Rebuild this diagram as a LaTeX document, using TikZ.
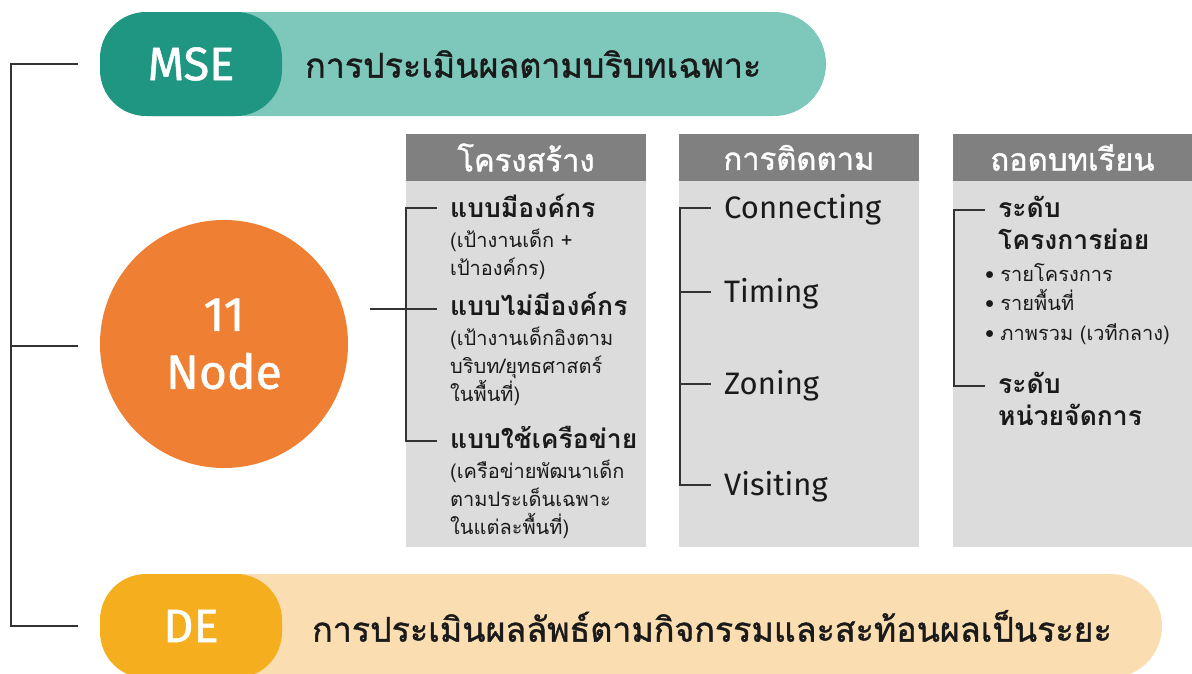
\documentclass[tikz,border=0pt]{standalone}
\usepackage{fontspec}
\setmainfont{Fira Sans}
\newfontfamily\thai[Script=Thai]{Loma}
\newfontfamily\thaimed[Script=Thai,FakeBold=1.2]{Loma}
\newfontfamily\firamed[FakeBold=1]{Fira Sans}
\definecolor{tealdark}{HTML}{1F9682}
\definecolor{teallight}{HTML}{7DC8BB}
\definecolor{orangec}{HTML}{EF7F33}
\definecolor{yeldark}{HTML}{F4AE1E}
\definecolor{yellight}{HTML}{FADDB0}
\definecolor{hdrgray}{HTML}{808080}
\definecolor{bodygray}{HTML}{DCDCDC}
\definecolor{linec}{HTML}{333333}
\definecolor{txt}{HTML}{1A1A1A}
\newcommand{\fs}[1]{\fontsize{#1}{#1}\selectfont}
\tikzset{
  conn/.style={draw=linec, line width=2.4pt},
  bar/.style={rounded corners=52pt, minimum height=104pt, inner sep=0pt},
  capnode/.style={rounded corners=46pt, minimum width=182pt, minimum height=104pt, inner sep=0pt, text=white, font=\firamed\fs{47}},
  bartext/.style={anchor=west, inner sep=0pt, text=txt, font=\thaimed\fs{34}},
  hdr/.style={fill=hdrgray, minimum width=240pt, minimum height=47pt, inner sep=0pt, text=white, font=\thaimed\fs{31}},
  colbody/.style={fill=bodygray, minimum width=240pt, minimum height=366pt, inner sep=0pt},
  big/.style={anchor=west, inner sep=0pt, text=txt, font=\thai\bfseries\fs{26.5}, text height=18pt, text depth=6pt},
  small/.style={anchor=west, inner sep=0pt, text=txt, font=\thai\fs{20}, text height=14pt, text depth=5pt},
  latin/.style={anchor=west, inner sep=0pt, text=txt, font=\fs{31}, text height=22pt, text depth=7pt},
}
\begin{document}
\begin{tikzpicture}[x=1pt,y=-1pt]
\useasboundingbox (0,0) rectangle (1192,673);
\clip (0,0) rectangle (1192,673);
% top bar
\node[bar, fill=teallight, minimum width=726pt] (msebar) at (463,64) {};
\node[capnode, fill=tealdark] (mse) at (191,64) {MSE};
\node[bartext] (msetext) at (305,64) {การประเมินผลตามบริบทเฉพาะ};
% bottom bar
\node[bar, fill=yellight, minimum width=1062pt] (debar) at (631,626) {};
\node[capnode, fill=yeldark] (de) at (191,626) {DE};
\node[bartext] (detext) at (312,626) {การประเมินผลลัพธ์ตามกิจกรรมและสะท้อนผลเป็นระยะ};
% circle
\node[circle, fill=orangec, minimum size=248pt, inner sep=0pt, text=white, align=center, font=\firamed\fs{48}] (node11) at (224,344) {11\\[10pt]Node};
% left bracket
\coordinate (lt) at (11,64);
\coordinate (lm) at (11,346);
\coordinate (lb) at (11,626);
\coordinate (lte) at (78,64);
\coordinate (lme) at (78,346);
\coordinate (lbe) at (78,626);
\draw[conn] (lte) -- (lt) -- (lb) -- (lbe);
\draw[conn] (lm) -- (lme);
% columns
\node[colbody] (b1) at (526,364) {};
\node[hdr] (h1) at (526,157.5) {โครงสร้าง};
\node[colbody] (b2) at (799,364) {};
\node[hdr] (h2) at (799,157.5) {การติดตาม};
\node[colbody, minimum width=239pt] (b3) at (1072.5,364) {};
\node[hdr, minimum width=239pt] (h3) at (1072.5,157.5) {ถอดบทเรียน};
% column 1 texts
\node[big] (s1) at (450,211) {แบบมีองค์กร};
\node[small] (s1a) at (450,243) {(เป้างานเด็ก +};
\node[small] (s1b) at (450,271) {เป้าองค์กร)};
\node[big] (s2) at (450,309) {แบบไม่มีองค์กร};
\node[small] (s2a) at (450,341) {(เป้างานเด็กอิงตาม};
\node[small] (s2b) at (450,369) {บริบท/ยุทธศาสตร์};
\node[small] (s2c) at (450,397) {ในพื้นที่)};
\node[big] (s3) at (450,442) {แบบใช้เครือข่าย};
\node[small] (s3a) at (450,474) {(เครือข่ายพัฒนาเด็ก};
\node[small] (s3b) at (450,502) {ตามประเด็นเฉพาะ};
\node[small] (s3c) at (450,530) {ในแต่ละพื้นที่)};
\coordinate (k1t) at (406,208);
\coordinate (k1m) at (406,309);
\coordinate (k1b) at (406,441);
\coordinate (k1te) at (437,208);
\coordinate (k1me) at (437,309);
\coordinate (k1be) at (437,441);
\coordinate (cline) at (370,309);
\draw[conn] (k1te) -- (k1t) -- (k1b) -- (k1be);
\draw[conn] (cline) -- (k1me);
% column 2 texts
\node[latin] (t1) at (724,211) {Connecting};
\node[latin] (t2) at (724,295) {Timing};
\node[latin] (t3) at (724,387) {Zoning};
\node[latin] (t4) at (724,488) {Visiting};
\coordinate (k2t) at (680,208);
\coordinate (k2b) at (680,485);
\coordinate (k2m1) at (680,292);
\coordinate (k2m2) at (680,384);
\coordinate (k2te) at (711,208);
\coordinate (k2be) at (711,485);
\coordinate (k2m1e) at (711,292);
\coordinate (k2m2e) at (711,384);
\draw[conn] (k2te) -- (k2t) -- (k2b) -- (k2be);
\draw[conn] (k2m1) -- (k2m1e);
\draw[conn] (k2m2) -- (k2m2e);
% column 3 texts
\node[big] (u1) at (998,211) {ระดับ};
\node[big] (u1b) at (998,243) {โครงการย่อย};
\node[small] (u1c) at (985,277) {•\hspace{6pt}รายโครงการ};
\node[small] (u1d) at (985,306) {•\hspace{6pt}รายพื้นที่};
\node[small] (u1e) at (985,336) {•\hspace{6pt}ภาพรวม (เวทีกลาง)};
\node[big] (u2) at (998,387) {ระดับ};
\node[big] (u2b) at (998,419) {หน่วยจัดการ};
\coordinate (k3t) at (954,210);
\coordinate (k3b) at (954,386);
\coordinate (k3te) at (985,210);
\coordinate (k3be) at (985,386);
\draw[conn] (k3te) -- (k3t) -- (k3b) -- (k3be);
\end{tikzpicture}
\end{document}
